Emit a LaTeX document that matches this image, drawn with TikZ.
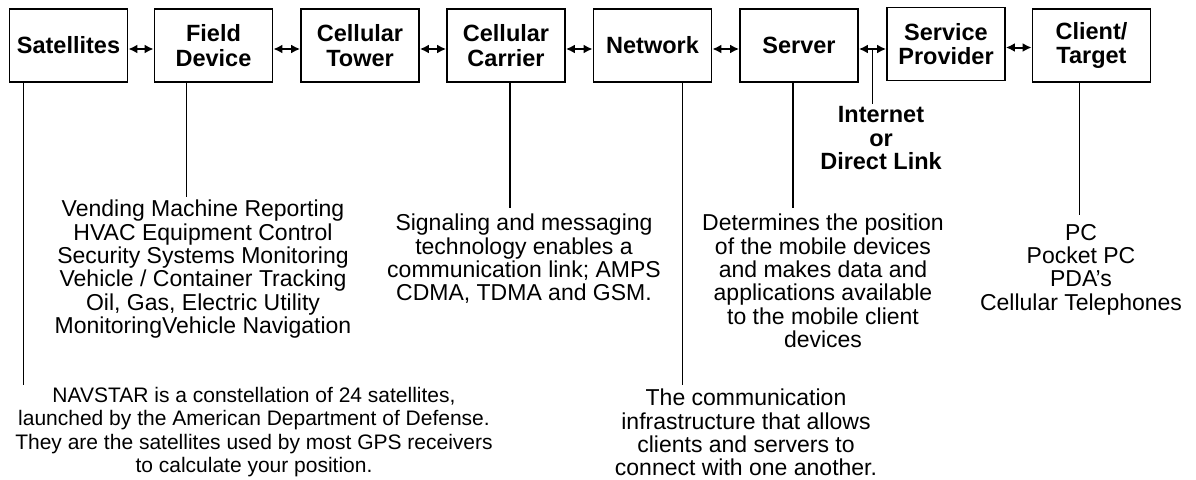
\documentclass[tikz,border=0pt]{standalone}
\usepackage{fontspec}
\setmainfont{Liberation Sans}
\usetikzlibrary{arrows.meta,calc}
\begin{document}
\begin{tikzpicture}[x=1pt,y=-1pt,
  box/.style={draw, line width=1.8pt, minimum width=118pt, minimum height=73pt,
    inner sep=0pt, align=center, font=\fontsize{23.5}{24.5}\selectfont\bfseries},
  link/.style={line width=2pt, {Latex[length=9pt,width=9pt]}-{Latex[length=9pt,width=9pt]}},
  stem/.style={line width=1.6pt},
  descr/.style={anchor=north, inner sep=0pt, align=center,
    font=\fontsize{23}{23.3}\selectfont},
  smalldescr/.style={descr, font=\fontsize{21}{23.3}\selectfont},
  boldnote/.style={descr, font=\fontsize{23.5}{23.3}\selectfont\bfseries}
]
\useasboundingbox (0,0) rectangle (1196,479);

% chain of components
\node[box] (sat) at (68.5,45.5)  {Satellites};
\node[box] (fd)  at (213.5,45.5) {Field\\Device};
\node[box] (tow) at (360,45.5)   {Cellular\\Tower};
\node[box] (car) at (506,45.5)   {Cellular\\Carrier};
\node[box] (net) at (652.5,45.5) {Network};
\node[box] (srv) at (799,45.5)   {Server};
\node[box] (sp)  at (946,44)     {Service\\Provider};
\node[box] (cli) at (1091.5,45.5){Client/\\Target};

% two-way links between neighbours
\foreach \a/\b in {sat/fd, fd/tow, tow/car, car/net, net/srv, srv/sp, sp/cli}
  \draw[link] ([yshift=-3.5pt]\a.east) -- ([yshift=-3.5pt]\b.west |- \a.east);

% descriptions
\node[smalldescr] (satnote) at (254,387) {NAVSTAR is a constellation of 24 satellites,\\
  launched by the American Department of Defense.\\
  They are the satellites used by most GPS receivers\\
  to calculate your position.};
\node[descr] (fdnote) at (203,200) {Vending Machine Reporting\\
  HVAC Equipment Control\\
  Security Systems Monitoring\\
  Vehicle / Container Tracking\\
  Oil, Gas, Electric Utility\\
  MonitoringVehicle Navigation};
\node[descr] (carnote) at (524,214) {Signaling and messaging\\
  technology enables a\\
  communication link; AMPS\\
  CDMA, TDMA and GSM.};
\node[descr] (netnote) at (746,389) {The communication\\
  infrastructure that allows\\
  clients and servers to\\
  connect with one another.};
\node[descr] (srvnote) at (823,214) {Determines the position\\
  of the mobile devices\\
  and makes data and\\
  applications available\\
  to the mobile client\\
  devices};
\node[boldnote] (inetnote) at (881,106.5) {Internet\\or\\Direct Link};
\node[descr] (clinote) at (1081,224) {PC\\Pocket PC\\PDA’s\\Cellular Telephones};

% leader lines from the boxes down to their descriptions
\coordinate (satx) at (23.5,0);
\coordinate (fdx)  at (186.5,0);
\coordinate (carx) at (510,0);
\coordinate (netx) at (682.5,0);
\coordinate (srvx) at (793,0);
\coordinate (clix) at (1079.5,0);
\draw[stem, shorten >=2pt] (satx |- sat.south) -- (satx |- satnote.north);
\draw[stem, shorten >=3pt] (fdx |- fd.south) -- (fdx |- fdnote.north);
\draw[stem, shorten >=6pt] (carx |- car.south) -- (carx |- carnote.north);
\draw[stem, shorten >=4pt] (netx |- net.south) -- (netx |- netnote.north);
\draw[stem, shorten >=6pt] (srvx |- srv.south) -- (srvx |- srvnote.north);
\draw[stem, shorten >=9pt] (clix |- cli.south) -- (clix |- clinote.north);

% the Server--Service Provider link is labelled from its midpoint
\coordinate (inet) at ($([yshift=-3.5pt]srv.east)!0.5!([yshift=-3.5pt]sp.west |- srv.east)$);
\draw[stem, shorten >=3pt] (inet) -- (inet |- inetnote.north);
\end{tikzpicture}
\end{document}
